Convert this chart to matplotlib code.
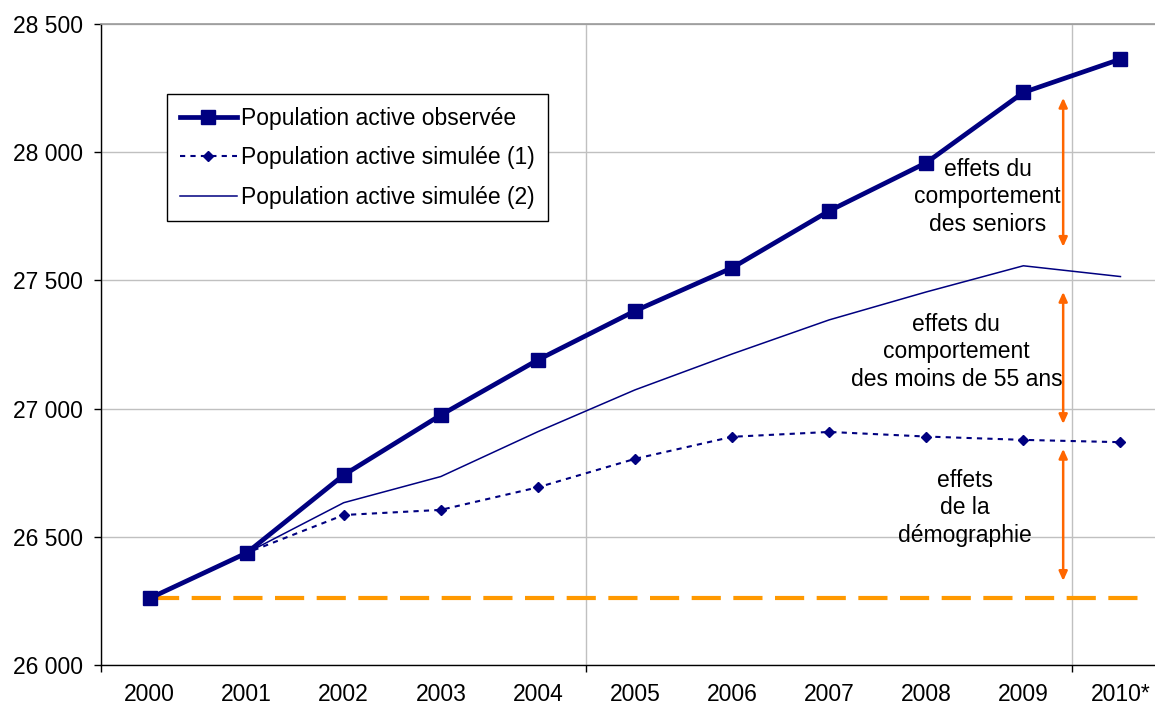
import matplotlib
matplotlib.use("Agg")
import matplotlib.pyplot as plt
from matplotlib.ticker import FixedLocator, FuncFormatter

plt.rcParams['font.family'] = ['Liberation Sans', 'DejaVu Sans']

# Data
years = ["2000", "2001", "2002", "2003", "2004", "2005", "2006", "2007", "2008", "2009", "2010*"]
pop_observee = [26260, 26437, 26741, 26975, 27190, 27381, 27549, 27771, 27959, 28233, 28363]
pop_simulee_1 = [26260, 26437, 26585, 26605, 26693, 26804, 26890, 26909, 26891, 26878, 26869]
pop_simulee_2 = [26260, 26437, 26633, 26735, 26910, 27073, 27213, 27346, 27455, 27557, 27515]
niveau_2000 = 26260
y_ticks = [26000, 26500, 27000, 27500, 28000, 28500]

# Effect brackets: (x position, top, bottom) and their labels
effets = [
    (9.41, 28212, 27631),
    (9.41, 27455, 26940),
    (9.41, 26843, 26328),
]
etiquettes = [
    (8.63, 27826, "effets du\ncomportement\ndes seniors"),
    (8.31, 27221, "effets du\ncomportement\ndes moins de 55 ans"),
    (8.40, 26613, "effets\nde la\ndémographie"),
]

NAVY = "#000080"
ORANGE = "#FF9900"
ARROW = "#FF6600"
FS = 16.5

W, H = 1155, 708
fig = plt.figure(figsize=(W / 100, H / 100), dpi=100)
ax = fig.add_axes([101 / W, (H - 665) / H, 1068 / W, (665 - 24) / H])

x = list(range(len(years)))

ax.plot([0, 10.25], [niveau_2000, niveau_2000], color=ORANGE, lw=3,
        dashes=(7, 3), zorder=2, solid_capstyle='butt', dash_capstyle='butt')

ax.plot(x, pop_simulee_2, color=NAVY, lw=1.1, zorder=3,
        label="Population active simulée (2)")
ax.plot(x, pop_simulee_1, color=NAVY, lw=1.5, dashes=(2.5, 2.5),
        marker='D', markersize=5.5, zorder=4,
        label="Population active simulée (1)")
ax.plot(x, pop_observee, color=NAVY, lw=3.4, marker='s', markersize=10,
        zorder=5, label="Population active observée")

for xa, top, bot in effets:
    ax.annotate("", xy=(xa, top), xytext=(xa, bot),
                arrowprops=dict(arrowstyle="<|-|>,head_length=0.55,head_width=0.25",
                                color=ARROW, lw=1.8, shrinkA=0, shrinkB=0),
                zorder=6)

for xt, yt, txt in etiquettes:
    ax.text(xt, yt, txt, ha='center', va='center', fontsize=FS,
            linespacing=1.25, color='black', zorder=7)

ax.set_xlim(-0.5, 10.5)
ax.set_ylim(26000, 28500)

# Category labels at centers, tick marks every five categories
ax.xaxis.set_major_locator(FixedLocator([-0.5, 4.5, 9.5]))
ax.xaxis.set_minor_locator(FixedLocator(x))
ax.xaxis.set_major_formatter(FuncFormatter(lambda v, p: ""))
ax.xaxis.set_minor_formatter(FuncFormatter(lambda v, p: years[int(round(v))]))
ax.tick_params(axis='x', which='major', direction='out', length=5, width=1, color='black')
ax.tick_params(axis='x', which='minor', length=0, pad=13, labelsize=FS)

ax.yaxis.set_major_locator(FixedLocator(y_ticks))
ax.yaxis.set_major_formatter(FuncFormatter(lambda v, p: f"{int(v):,}".replace(",", " ")))
ax.tick_params(axis='y', direction='out', length=5, width=1, pad=8, labelsize=FS)

ax.grid(True, which='major', color='#c0c0c0', lw=1)
ax.set_axisbelow(True)

ax.spines['right'].set_visible(False)
ax.spines['top'].set_color('#999999')
ax.spines['top'].set_linewidth(1.2)
ax.spines['left'].set_linewidth(1)
ax.spines['bottom'].set_linewidth(1)

handles, labels = ax.get_legend_handles_labels()
order = [2, 1, 0]
leg = ax.legend([handles[i] for i in order], [labels[i] for i in order],
                loc='upper left', bbox_to_anchor=(167 / W, 1 - 94 / H),
                bbox_transform=fig.transFigure, borderaxespad=0,
                fontsize=FS, frameon=True, fancybox=False, shadow=False,
                edgecolor='black', framealpha=1, handlelength=2.5,
                handletextpad=0.2, labelspacing=0.72, borderpad=0.55)
leg.get_frame().set_linewidth(1)

fig.savefig("out.png", dpi=100)
